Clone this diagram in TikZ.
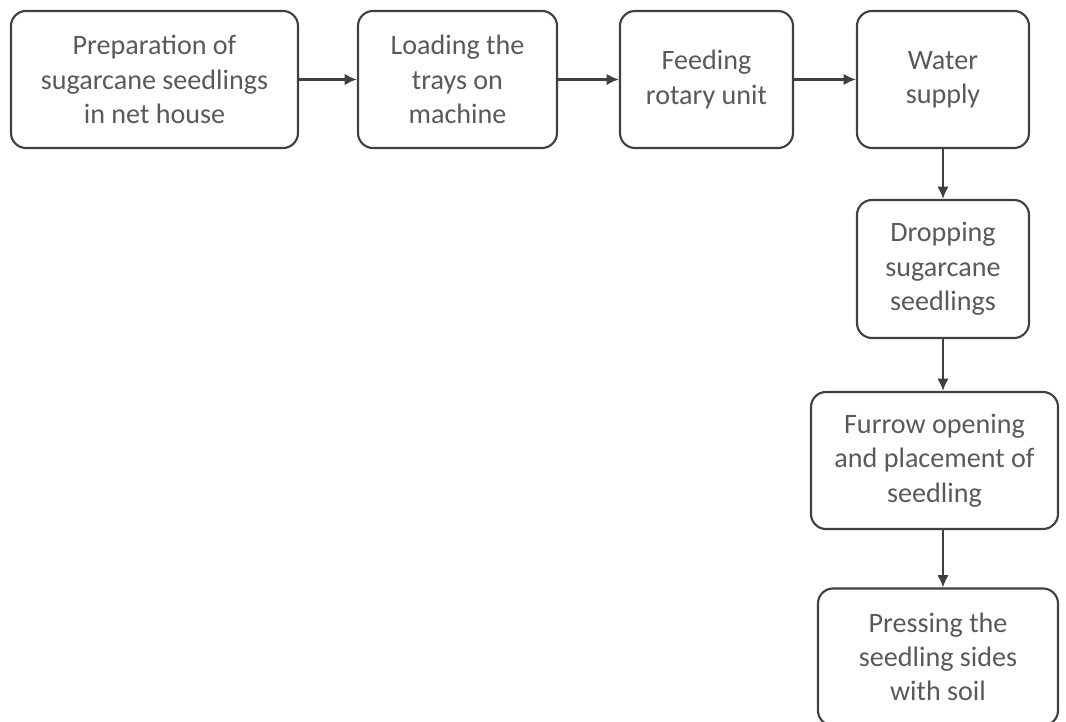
\documentclass[tikz,border=0pt]{standalone}
\usepackage{fontspec}
\setmainfont{Carlito}
\usetikzlibrary{arrows.meta}
\definecolor{boxline}{HTML}{404040}
\definecolor{boxtext}{HTML}{595959}
\tikzset{
    stepbox/.style = {draw = boxline, line width = 1.2pt, rounded corners = 0.3cm,
        align = center, text = boxtext, font = \fontsize{16}{19.5}\selectfont,
        minimum height = 2.74cm, inner sep = 0pt},
    flow/.style = {-{Latex[length = 7pt, width = 6.5pt]}, draw = boxline, line width = 1.2pt}
}
\begin{document}
\begin{tikzpicture}
            \useasboundingbox (0, 0) rectangle (21.32, -14.44);

            % Obere Reihe
            \node [stepbox, minimum width = 5.74cm] (prep) at (3.09, -1.59)
                {Preparation of\\sugarcane seedlings\\in net house};
            \node [stepbox, minimum width = 3.98cm] (load) at (9.15, -1.59)
                {Loading the\\trays on\\machine};
            \node [stepbox, minimum width = 3.46cm] (feed) at (14.13, -1.59)
                {Feeding\\rotary unit};
            \node [stepbox, minimum width = 3.44cm] (water) at (18.86, -1.59)
                {Water\\supply};

            % Rechte Spalte
            \node [stepbox, minimum width = 3.44cm, minimum height = 2.76cm] (drop) at (18.86, -5.38)
                {Dropping\\sugarcane\\seedlings};
            \node [stepbox, minimum width = 4.94cm] (furrow) at (18.69, -9.21)
                {Furrow opening\\and placement of\\seedling};
            \node [stepbox, minimum width = 4.80cm] (press) at (18.76, -13.14)
                {Pressing the\\seedling sides\\with soil};

            % Pfeile
            \draw [flow] (prep) -- (load);
            \draw [flow] (load) -- (feed);
            \draw [flow] (feed) -- (water);
            \draw [flow] (water) -- (drop);
            \draw [flow] (drop.south) -- (drop.south |- furrow.north);
            \draw [flow] (drop.south |- furrow.south) -- (drop.south |- press.north);
        \end{tikzpicture}
\end{document}
